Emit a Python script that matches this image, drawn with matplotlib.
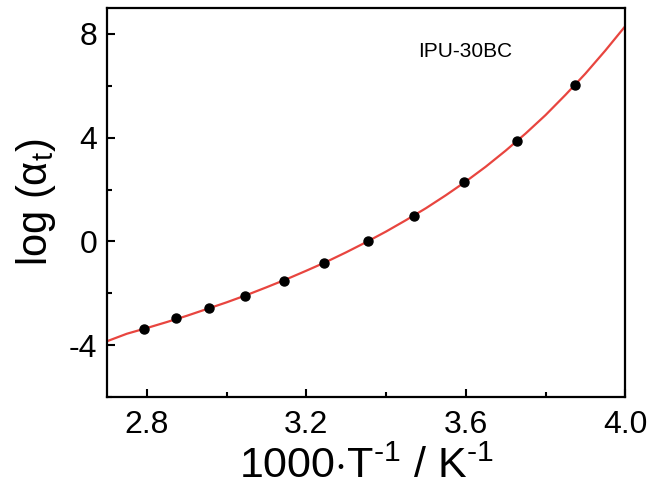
import matplotlib
matplotlib.use("Agg")
from matplotlib import pyplot as plt
from matplotlib.ticker import MultipleLocator

plt.rcParams["font.family"] = ["Liberation Sans", "DejaVu Sans"]
plt.rcParams["mathtext.fontset"] = "custom"
plt.rcParams["mathtext.rm"] = "Liberation Sans"
plt.rcParams["mathtext.it"] = "Liberation Sans"

# measured shift factors, 1000/T in K^-1
inv_temp = [2.792, 2.872, 2.957, 3.047, 3.143, 3.245, 3.354, 3.470, 3.595, 3.729, 3.874]
log_at = [-3.38, -2.97, -2.55, -2.12, -1.54, -0.82, 0.0, 0.97, 2.30, 3.87, 6.04]

# fitted curve
fit_x = [2.70, 2.75, 2.80, 2.85, 2.90, 2.95, 3.00, 3.05, 3.10, 3.15, 3.20, 3.25, 3.30, 3.35,
         3.40, 3.45, 3.50, 3.55, 3.60, 3.65, 3.70, 3.75, 3.80, 3.85, 3.90, 3.95, 4.00]
fit_y = [-3.85, -3.56, -3.34, -3.11, -2.87, -2.61, -2.35, -2.07, -1.77, -1.46, -1.13, -0.79, -0.42, -0.03,
         0.38, 0.82, 1.28, 1.78, 2.31, 2.88, 3.50, 4.16, 4.87, 5.65, 6.47, 7.36, 8.30]

xticks = [2.8, 3.2, 3.6, 4.0]
yticks = [-4, 0, 4, 8]

fig = plt.figure(figsize=(6.52, 4.91), dpi=100)
ax = fig.add_axes([0.164, 0.1914, 0.795, 0.7923])

ax.plot(fit_x, fit_y, color="#e8453f", lw=1.6, zorder=2)
ax.plot(inv_temp, log_at, "o", color="black", ms=6.5, zorder=3)

ax.set_xlim(2.7, 4.0)
ax.set_ylim(-6, 9)
ax.xaxis.set_minor_locator(MultipleLocator(0.2))
ax.yaxis.set_minor_locator(MultipleLocator(2))
ax.set_xticks(xticks)
ax.set_xticklabels([f"{v:.1f}" for v in xticks])
ax.set_yticks(yticks)
ax.set_yticklabels([str(v) for v in yticks])

ax.tick_params(which="both", direction="in", top=False, right=False, labelsize=23, width=1.5)
ax.tick_params(axis="x", which="major", length=6, pad=9)
ax.tick_params(axis="y", which="major", length=6, pad=7)
ax.tick_params(which="minor", length=3.5)
for s in ax.spines.values():
    s.set_linewidth(1.6)

ax.set_xlabel(r"1000$\cdot$T$^{\text{-1}}$ / K$^{\text{-1}}$", fontsize=31, labelpad=5)
ax.set_ylabel(r"log ($\alpha_{\text{t}}$)", fontsize=30, labelpad=8)

ax.text(0.600, 0.887, "IPU-30BC", fontsize=15, transform=ax.transAxes, va="center")

fig.savefig("out.png", dpi=100)
